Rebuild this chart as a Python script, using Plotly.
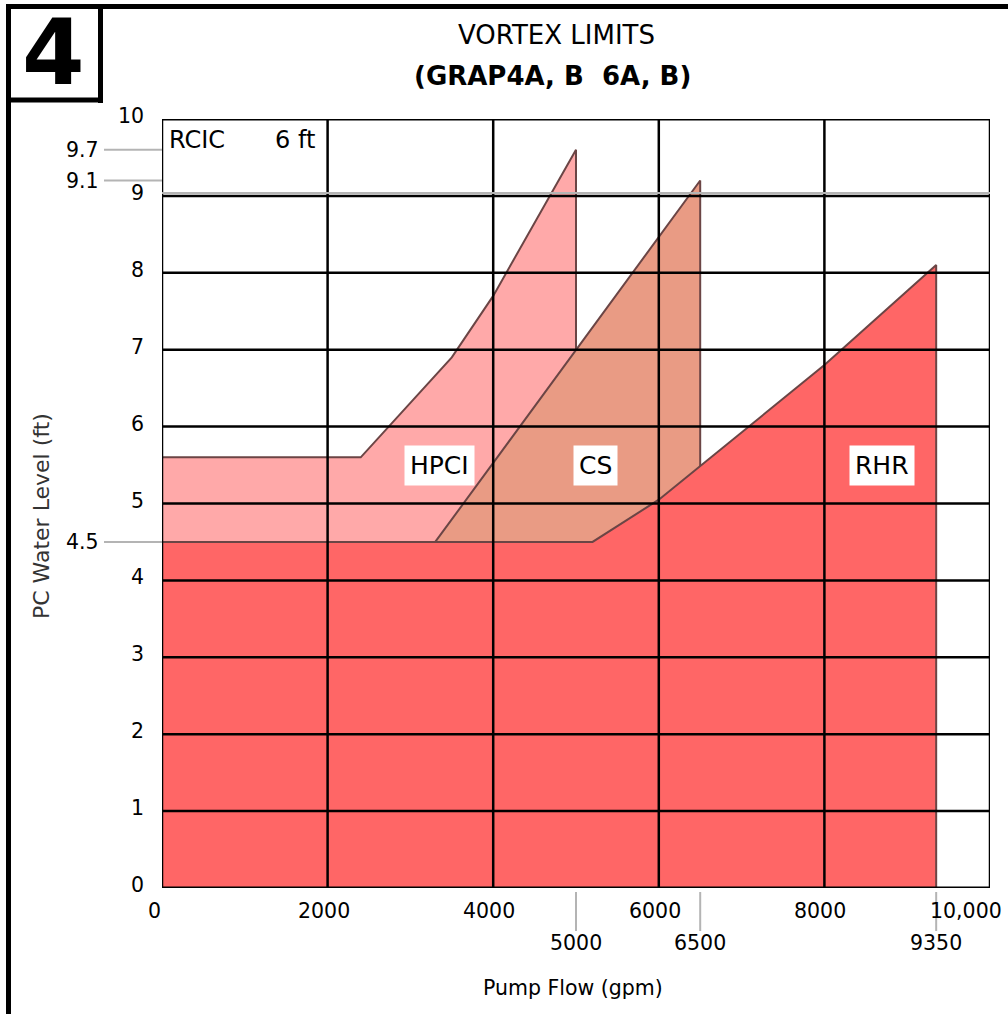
import plotly.graph_objects as go

# ---------------- data ----------------
x_ticks = [0, 2000, 4000, 6000, 8000, 10000]
x_tick_text = ["0", "2000", "4000", "6000", "8000", "10,000"]
x_marks = [5000, 6500, 9350]
x_mark_text = ["5000", "6500", "9350"]
y_ticks = [0, 1, 2, 3, 4, 5, 6, 7, 8, 9, 10]
y_marks = [9.6, 9.2, 4.5]
y_mark_text = ["9.7", "9.1", "4.5"]

hpci_flow = [0, 2400, 3500, 4000, 5000, 5000, 0]
hpci_level = [5.6, 5.6, 6.9, 7.7, 9.6, 4.5, 4.5]
cs_flow = [3300, 6500, 6500]
cs_level = [4.5, 9.2, 4.5]
rhr_flow = [0, 0, 5200, 6000, 8000, 9350, 9350]
rhr_level = [0, 4.5, 4.5, 5.05, 6.8, 8.1, 0]

labels = ["HPCI", "CS", "RHR"]
label_flow = [3350, 5240, 8690]
label_level = [5.5, 5.5, 5.5]

FONT = "DejaVu Sans"
W, H = 1008, 1014
PL, PR, PT, PB = 162, 990, 119, 888


def pxx(px):
    return (px - PL) / (PR - PL)


def pxy(py):
    return (PB - py) / (PB - PT)


fig = go.Figure()
OUT = "#6b4545"
fig.add_trace(go.Scatter(x=hpci_flow, y=hpci_level, fill="toself", mode="lines",
                         fillcolor="#ffa9a9", line=dict(color=OUT, width=2),
                         hoverinfo="skip", showlegend=False))
fig.add_trace(go.Scatter(x=cs_flow, y=cs_level, fill="toself", mode="lines",
                         fillcolor="#e99b84", line=dict(color=OUT, width=2),
                         hoverinfo="skip", showlegend=False))
fig.add_trace(go.Scatter(x=rhr_flow, y=rhr_level, fill="toself", mode="lines",
                         fillcolor="#ff6666", line=dict(color=OUT, width=2),
                         hoverinfo="skip", showlegend=False))

shapes = []
# light shadow under the bottom axis
shapes.append(dict(type="line", xref="paper", yref="y", x0=0, x1=pxx(812), ysizemode="pixel",
                   yanchor=0, y0=-4, y1=-4, line=dict(color="#c4c4c4", width=2)))
# grid
for xv in x_ticks:
    shapes.append(dict(type="line", xref="x", yref="paper", x0=xv, x1=xv, y0=0, y1=1,
                       line=dict(color="black", width=2.5), layer="above"))
for yv in y_ticks:
    shapes.append(dict(type="line", xref="paper", yref="y", x0=0, x1=1, y0=yv, y1=yv,
                       line=dict(color="black", width=3 if yv in (0, 10) else 2.5), layer="above"))
# gray reference line just above the 9 ft grid line
shapes.append(dict(type="line", xref="paper", yref="y", x0=0, x1=1, ysizemode="pixel",
                   yanchor=9, y0=3, y1=3, line=dict(color="#b4b4b4", width=2), layer="above"))
# left side reference ticks
for yv in y_marks:
    shapes.append(dict(type="line", xref="paper", yref="y", x0=pxx(104), x1=0, y0=yv, y1=yv,
                       line=dict(color="#b4b4b4", width=2)))
# bottom secondary ticks
for xv in x_marks:
    shapes.append(dict(type="line", xref="x", yref="paper", x0=xv, x1=xv,
                       y0=pxy(892), y1=pxy(931), line=dict(color="#b4b4b4", width=2)))
# outer frame and the number box
shapes.append(dict(type="line", xref="paper", yref="paper", x0=pxx(6), x1=pxx(1010),
                   y0=pxy(6.5), y1=pxy(6.5), line=dict(color="black", width=5)))
shapes.append(dict(type="line", xref="paper", yref="paper", x0=pxx(8.5), x1=pxx(8.5),
                   y0=pxy(4), y1=pxy(1016), line=dict(color="black", width=5)))
shapes.append(dict(type="line", xref="paper", yref="paper", x0=pxx(100.5), x1=pxx(100.5),
                   y0=pxy(4), y1=pxy(103), line=dict(color="black", width=5)))
shapes.append(dict(type="line", xref="paper", yref="paper", x0=pxx(6), x1=pxx(103),
                   y0=pxy(100), y1=pxy(100), line=dict(color="black", width=5)))

ann = []
tf = dict(family=FONT, size=20.5, color="#000")
for yv in y_ticks:
    ann.append(dict(text=str(yv), xref="paper", yref="y", x=pxx(146), y=yv, yshift=3,
                    xanchor="right", yanchor="middle", showarrow=False, font=tf))
for yv, t in zip(y_marks, y_mark_text):
    ann.append(dict(text=t, xref="paper", yref="y", x=pxx(101), y=yv,
                    xanchor="right", yanchor="middle", showarrow=False, font=tf))
for i, (xv, t) in enumerate(zip(x_ticks, x_tick_text)):
    shift = -8 if i == 0 else (-24 if i == len(x_ticks) - 1 else -4)
    ann.append(dict(text=t, xref="x", yref="paper", x=xv, y=pxy(911), xshift=shift,
                    xanchor="center", yanchor="middle", showarrow=False, font=tf))
for xv, t in zip(x_marks, x_mark_text):
    ann.append(dict(text=t, xref="x", yref="paper", x=xv, y=pxy(943),
                    xanchor="center", yanchor="middle", showarrow=False, font=tf))
for t, xv, yv in zip(labels, label_flow, label_level):
    ann.append(dict(text=t, xref="x", yref="y", x=xv, y=yv, showarrow=False,
                    bgcolor="white", borderpad=5,
                    font=dict(family=FONT, size=25, color="#000")))
ann.append(dict(text="RCIC", xref="paper", yref="paper", x=pxx(167), y=pxy(140),
                xanchor="left", yanchor="middle", showarrow=False,
                font=dict(family=FONT, size=24, color="#000")))
ann.append(dict(text="6 ft", xref="paper", yref="paper", x=pxx(295), y=pxy(140),
                xanchor="center", yanchor="middle", showarrow=False,
                font=dict(family=FONT, size=24, color="#000")))
ann.append(dict(text="VORTEX LIMITS", xref="paper", yref="paper", x=pxx(556), y=pxy(35),
                xanchor="center", yanchor="middle", showarrow=False,
                font=dict(family=FONT, size=26, color="#000")))
ann.append(dict(text="<b>(GRAP4A, B  6A, B)</b>", xref="paper", yref="paper", x=pxx(552), y=pxy(76),
                xanchor="center", yanchor="middle", showarrow=False,
                font=dict(family=FONT, size=26, color="#000")))
ann.append(dict(text="<b>4</b>", xref="paper", yref="paper", x=pxx(53), y=pxy(53),
                xanchor="center", yanchor="middle", showarrow=False,
                font=dict(family=FONT, size=90, color="black")))
ann.append(dict(text="Pump Flow (gpm)", xref="paper", yref="paper", x=pxx(573), y=pxy(988),
                xanchor="center", yanchor="middle", showarrow=False,
                font=dict(family=FONT, size=20.5, color="#000")))
ann.append(dict(text="PC Water Level (ft)", xref="paper", yref="paper", x=pxx(41), y=pxy(516),
                xanchor="center", yanchor="middle", showarrow=False, textangle=-90,
                font=dict(family=FONT, size=22, color="#333")))

fig.update_layout(
    width=W, height=H,
    margin=dict(l=PL, r=W - PR, t=PT, b=H - PB, pad=0),
    paper_bgcolor="white", plot_bgcolor="white",
    xaxis=dict(range=[0, 10000], showgrid=False, zeroline=False, showticklabels=False,
               showline=False, ticks="", fixedrange=True),
    yaxis=dict(range=[0, 10], showgrid=False, zeroline=False, showticklabels=False,
               showline=False, ticks="", fixedrange=True),
    shapes=shapes, annotations=ann, showlegend=False,
)
fig.write_html("out.html", config={"displayModeBar": False},
               post_script="document.body.style.margin='0';document.body.style.overflow='hidden';")
